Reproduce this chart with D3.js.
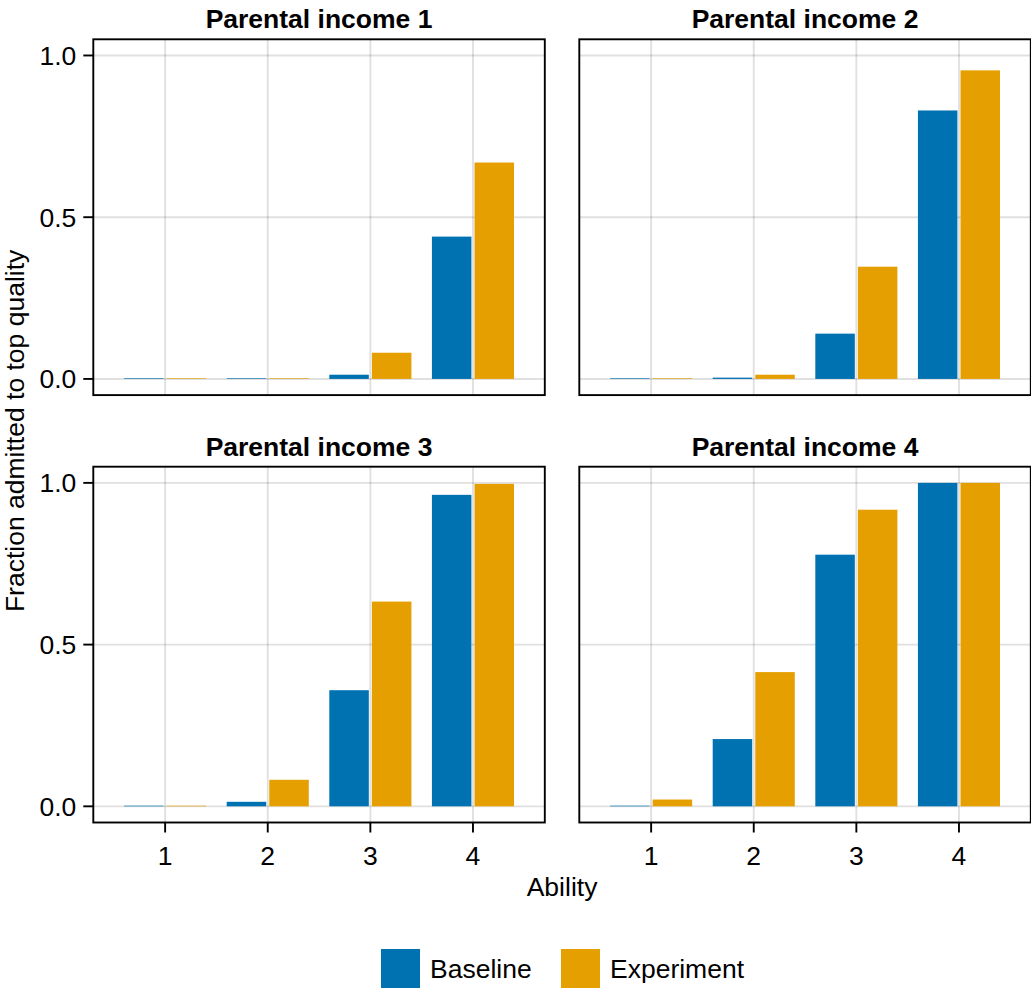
<!DOCTYPE html>
<html>
<head>
<meta charset="utf-8">
<script src="https://cdn.jsdelivr.net/npm/d3@7"></script>
<style>
  html, body { margin: 0; padding: 0; background: #fff; }
  svg text { font-family: "Liberation Sans", Arial, Helvetica, sans-serif; fill: #000; }
</style>
</head>
<body>
<svg id="chart" width="1031" height="989"></svg>
<script>
// ---- data ----
const abilities = [1, 2, 3, 4];
const panelTitles = ["Parental income 1", "Parental income 2", "Parental income 3", "Parental income 4"];
const seriesNames = ["Baseline", "Experiment"];
const seriesColors = ["#0072B2", "#E69F00"];
const baseline1 = [0.002, 0.002, 0.013, 0.440];
const experiment1 = [0.002, 0.002, 0.081, 0.669];
const baseline2 = [0.002, 0.004, 0.140, 0.830];
const experiment2 = [0.002, 0.013, 0.347, 0.954];
const baseline3 = [0.002, 0.014, 0.359, 0.963];
const experiment3 = [0.002, 0.082, 0.633, 0.997];
const baseline4 = [0.002, 0.208, 0.778, 1.000];
const experiment4 = [0.021, 0.415, 0.917, 1.000];
const yTicks = [0.0, 0.5, 1.0];
const yTickLabels = ["0.0", "0.5", "1.0"];
const xTickLabels = ["1", "2", "3", "4"];
const xLabel = "Ability";
const yLabel = "Fraction admitted to top quality";

const panels = [
  { title: panelTitles[0], b: baseline1, e: experiment1, col: 0, row: 0 },
  { title: panelTitles[1], b: baseline2, e: experiment2, col: 1, row: 0 },
  { title: panelTitles[2], b: baseline3, e: experiment3, col: 0, row: 1 },
  { title: panelTitles[3], b: baseline4, e: experiment4, col: 1, row: 1 },
];

// ---- layout ----
const colLeft = [93.3, 579.3];
const panelW = 451.5;
const rowTop = [39.3, 466.7];
const panelH = 355.8;
const FS = 26.5;

const barWidth = 0.385;
const dodgeOff = 0.2075;

const svg = d3.select("#chart");

panels.forEach(p => {
  const x0 = colLeft[p.col], y0 = rowTop[p.row];
  const x = d3.scaleLinear().domain([0.3, 4.7]).range([x0, x0 + panelW]);
  const y = d3.scaleLinear().domain([-0.05, 1.05]).range([y0 + panelH, y0]);
  const g = svg.append("g");

  // grid
  g.selectAll(".gx").data(abilities).enter().append("line")
    .attr("x1", d => x(d)).attr("x2", d => x(d))
    .attr("y1", y0).attr("y2", y0 + panelH)
    .attr("stroke", "rgba(0,0,0,0.12)").attr("stroke-width", 1.9);
  g.selectAll(".gy").data(yTicks).enter().append("line")
    .attr("x1", x0).attr("x2", x0 + panelW)
    .attr("y1", d => y(d)).attr("y2", d => y(d))
    .attr("stroke", "rgba(0,0,0,0.12)").attr("stroke-width", 1.9);

  // bars
  const series = [p.b, p.e];
  series.forEach((vals, si) => {
    const off = si === 0 ? -dodgeOff : dodgeOff;
    g.selectAll(".bar" + si).data(vals).enter().append("rect")
      .attr("x", (d, i) => x(abilities[i] + off - barWidth / 2))
      .attr("width", (d, i) => x(abilities[i] + off + barWidth / 2) - x(abilities[i] + off - barWidth / 2))
      .attr("y", d => y(d))
      .attr("height", d => y(0) - y(d))
      .attr("fill", seriesColors[si]);
  });

  // frame
  g.append("rect")
    .attr("x", x0).attr("y", y0).attr("width", panelW).attr("height", panelH)
    .attr("fill", "none").attr("stroke", "#000").attr("stroke-width", 1.9);

  // title
  g.append("text")
    .attr("x", x0 + panelW / 2).attr("y", y0 - 11)
    .attr("text-anchor", "middle")
    .attr("font-size", FS).attr("font-weight", "bold")
    .text(p.title);

  // y axis on left column
  if (p.col === 0) {
    g.selectAll(".yt").data(yTicks).enter().append("line")
      .attr("x1", x0 - 10).attr("x2", x0)
      .attr("y1", d => y(d)).attr("y2", d => y(d))
      .attr("stroke", "#000").attr("stroke-width", 1.9);
    g.selectAll(".ytl").data(yTicks).enter().append("text")
      .attr("x", x0 - 17).attr("y", d => y(d))
      .attr("dy", "0.36em")
      .attr("text-anchor", "end")
      .attr("font-size", FS)
      .text((d, i) => yTickLabels[i]);
  }
  // x axis on bottom row
  if (p.row === 1) {
    g.selectAll(".xt").data(abilities).enter().append("line")
      .attr("x1", d => x(d)).attr("x2", d => x(d))
      .attr("y1", y0 + panelH).attr("y2", y0 + panelH + 10)
      .attr("stroke", "#000").attr("stroke-width", 1.9);
    g.selectAll(".xtl").data(abilities).enter().append("text")
      .attr("x", d => x(d)).attr("y", y0 + panelH + 42)
      .attr("text-anchor", "middle")
      .attr("font-size", FS)
      .text((d, i) => xTickLabels[i]);
  }
});

// axis labels
svg.append("text")
  .attr("x", (colLeft[0] + colLeft[1] + panelW) / 2).attr("y", 896)
  .attr("text-anchor", "middle").attr("font-size", FS)
  .text(xLabel);

svg.append("text")
  .attr("transform", `translate(24, ${(rowTop[0] + rowTop[1] + panelH) / 2}) rotate(-90)`)
  .attr("text-anchor", "middle").attr("font-size", FS)
  .text(yLabel);

// legend
const legendX = [381, 561];
const legend = svg.append("g");
seriesNames.forEach((name, i) => {
  legend.append("rect")
    .attr("x", legendX[i]).attr("y", 949).attr("width", 39).attr("height", 39)
    .attr("fill", seriesColors[i]);
  legend.append("text")
    .attr("x", legendX[i] + 49).attr("y", 978)
    .attr("font-size", FS)
    .text(name);
});
</script>
</body>
</html>
